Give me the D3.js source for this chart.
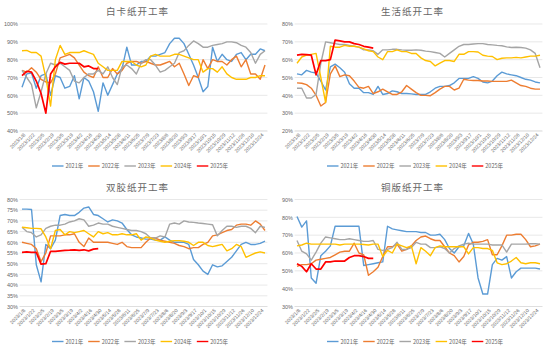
<!DOCTYPE html>
<html>
<head>
<meta charset="utf-8">
<script src="https://cdn.jsdelivr.net/npm/d3@7"></script>
<style>
  body { margin: 0; background: #fff; }
  svg { display: block; font-family: "Noto Sans CJK SC", "Noto Sans", sans-serif; }
</style>
</head>
<body>
<div id="chart"></div>
<script>
// weekly categories
const dates = ["2023/1/8","2023/1/15","2023/1/22","2023/1/29","2023/2/5","2023/2/12","2023/2/19","2023/2/26",
  "2023/3/5","2023/3/12","2023/3/19","2023/3/26","2023/4/2","2023/4/9","2023/4/16","2023/4/23","2023/4/30",
  "2023/5/7","2023/5/14","2023/5/21","2023/5/28","2023/6/4","2023/6/11","2023/6/18","2023/6/25","2023/7/2",
  "2023/7/9","2023/7/16","2023/7/23","2023/7/30","2023/8/6","2023/8/13","2023/8/20","2023/8/27","2023/9/3",
  "2023/9/10","2023/9/17","2023/9/24","2023/10/1","2023/10/8","2023/10/15","2023/10/22","2023/10/29","2023/11/5",
  "2023/11/12","2023/11/19","2023/11/26","2023/12/3","2023/12/10","2023/12/17","2023/12/24","2023/12/31"];

const years = ["2021年", "2022年", "2023年", "2024年", "2025年"];
const colors = ["#5b9bd5", "#ed7d31", "#a5a5a5", "#ffc000", "#ff0000"];

// 白卡纸
const bk2021 = [64.5,72,72.5,64,71,72,60,71,70,64,65,71,58,70,68,62,51,67,60,66,72,75,87,77,77,79,79,82,82,83,84,89,92,92,89,83,77,70,62,65,87,79,83,80,79,83,84,80,83,83,86,85];
const bk2022 = [74,73,75.5,73,69,67.5,67,72,81,82,83,81,77,73,71,70,76,70,70,75,72,74,78,79,79,78,79,78,77,77,78,79,76,78,72,65.5,71,70,80,75,80,79,79,77,80,82,76,80,72,72,69,77];
const bk2023 = [74,70,66,53,62,72,78,77,78,76,74,68,67,70,72,72,74,72,76,70,66,76,77,75,72,78,80,80,77,73,74,76,78,84,85,88,90.5,89,87,87,88,88.5,89,90,90,89.5,88,87,84,78,83,85];
const bk2024 = [85,85.2,84,84,82,70,54,80,88,83,84,84,84,85,84,83,78,76,74,74,74,79,79,79,77,76,77,82,83,82,82,82,83,83,82,81,80,80,73,75,75,73,76,72,70,69,69,69,70,70,71,71];
const bk2025 = [71,73.5,73,68,61,50,72,76,78.5,77.5,78,78,78,76,76.5,75,75];

// 生活纸
const sh2021 = [52,51.5,54,53,52.5,48,43,56,57.5,55.5,53,46.5,44,44,41.5,41.5,40.5,45,40.5,41,42.5,42,41,41,40.8,40.5,40.5,40.5,42,44,45,45,45.5,47,49.5,49.5,49.5,50.5,49.5,47.5,47,48,51,53,52,51.5,51,50,49,48.5,47.5,47];
const sh2022 = [47,46.8,46,44,40,34,36,52,56.5,50.5,51.5,51,48,44.5,44,45,41,42,43.5,42,40.5,40.5,42,45.5,43.5,41.5,40,40,39.8,41.5,43.5,45,45,43,44,49,48.5,48.3,48.3,48,48,47.8,47.8,47.8,47.8,48.5,47,45.5,45,44,43.5,43.5];
const sh2023 = [44,44,38.5,38.5,40.5,58,70,69.5,69,68.5,68.5,68,67.5,67,65.5,65.5,65,63,65.5,65.5,65.8,65.8,65.5,65.3,65.3,65.5,65.3,64.8,64.5,64,63.5,61.5,63.5,65.5,67.5,68.5,68.5,68.8,69,69,68.5,68.3,68,67.8,67.2,66.8,67,66.8,66.5,65.5,63.5,55.5];
const sh2024 = [58,61.5,62.5,63,63.5,50,36,67.5,67,67,68,67.5,67.5,67,66,65,64.5,61.5,60,64.5,64.5,65.5,64.5,64.5,63.5,63.5,61,59.5,59,56.5,58,59.5,59.5,59,63,63,64.5,64.5,64.3,62.5,62,61.8,60,60.8,61,61,61.3,61,61.5,62,62,62.5];
const sh2025 = [62.5,63,62.8,62.5,51.5,59.5,59.5,60,71,70.5,70,70,69,68.5,67.5,67,66.5];

// 双胶纸
const sj2021 = [75.5,75.5,75.3,49.5,41.5,59,57,61,72.5,73,72.5,72.5,74,76,76.5,73,72.5,71,69.5,70.5,70,69,66,63.5,62.5,62,61.5,61.5,61,61,62.5,61,60,60,60,59,52,49.5,46.5,45,49.5,48.5,49,51,53,56,59,60,59,59,59.5,60.5];
const sj2022 = [60,59.5,59,57,51,55,63,63,63,63.5,63.5,64,60,58,62,60,60,60,60,59.5,59,60,58,57.5,57.5,57.5,60,62,62,61,60.5,60,59.5,58.5,58,57,57.5,57.5,59,60,63,63.5,64.5,65.5,66,68,68.5,68.5,68,70,68.5,65.5];
const sj2023 = [67,65,64.5,62.5,63.5,66.5,67.5,68,68,68.5,69.5,70,71,70.5,67.5,68,69,68.5,68.5,67.5,67,66.5,66,65.5,65.5,65,64,62,62,63,62.5,68.5,69,68.5,70,69.5,69.3,69,68.8,68.5,68.2,63,65.5,67.5,67.5,67,67.5,67.5,66.5,64.5,67.5,67];
const sj2024 = [67,66.8,66.5,66.5,66.3,62.5,57,65.5,66,63.5,65,64.5,65,65.5,64,62.5,65,64,64.5,63.5,63.5,64,63.5,63.5,64,61,62.5,62,61,60.5,60,60.5,60.8,60.8,60.5,60,58.5,60,60,58.5,58,58.5,59,56,57,59,58,53,54,55,55.5,55];
const sj2025 = [55.3,55.5,55.3,55.3,49.8,50,55.8,55.8,56,56.2,56.3,56.5,56.2,56.5,56,56.8,57];

// 铜版纸
const tb2021 = [80.5,74.5,78,46,43,58.5,61,64,75,75,75,75,75,75,53,53.5,54,54.5,55,75,73.5,73,72.5,72,72,72,71.5,71.5,70,70,70.5,67.5,62.5,60,63.5,64,71,65,46,37,37,53.5,57,56,58,46,49.5,51.5,51.5,51.5,51.5,51];
const tb2022 = [52.5,53.5,53.5,54,56,56.5,57,57.5,59,60.5,61,61,65.5,60,59,47.5,49.5,52,58,63.5,63.5,65,61,62,64,67,69,69.5,68,67,67,63.5,60,58.5,55,58,64.5,66,66,66.5,67.5,59,59,64,70,70,70.5,70.5,67.5,63.5,64,65];
const tb2023 = [67,61,59.5,56,60.5,65.5,69,68.5,68,67.5,67.5,68,67.5,67,66.5,66.5,67,62,61.5,62,63,66,62,62,63,66,65,65,63,63,63.5,62.5,60,62.5,64,65,65.5,65,65,65,65,64.5,64.5,64.5,60.5,65,65,65,65,65.2,65.2,65];
const tb2024 = [64,64.5,65.5,65,65,65,65,65,65,64.5,65,65,65,65,64.8,64.5,65,65,58,61.5,60,65,64,63,64,54,63,61,58.5,63,64,63.5,63.5,63.5,63.5,63.5,59.5,63,63,62.5,62.5,61.5,54.5,53.5,54,55.5,57.5,54.5,54,54.5,54.5,54];
const tb2025 = [54,52.5,49.5,54,51,51,55,55,55.5,55.5,55.5,57.5,58.5,58.5,58,57,57];

const panels = [
  { title: "白卡纸开工率", ticks: [40,50,60,70,80,90,100], series: [bk2021,bk2022,bk2023,bk2024,bk2025] },
  { title: "生活纸开工率", ticks: [20,30,40,50,60,70,80], series: [sh2021,sh2022,sh2023,sh2024,sh2025] },
  { title: "双胶纸开工率", ticks: [30,35,40,45,50,55,60,65,70,75,80], series: [sj2021,sj2022,sj2023,sj2024,sj2025] },
  { title: "铜版纸开工率", ticks: [30,40,50,60,70,80,90], series: [tb2021,tb2022,tb2023,tb2024,tb2025] }
];

const pw = 275;

const svg = d3.select("#chart").append("svg")
    .attr("width", 550)
    .attr("height", 351);

panels.forEach((p, k) => {
    const g = svg.append("g")
        .attr("transform", `translate(${(k % 2) * pw},${Math.floor(k / 2) * 175.5})`);

    const x = d3.scalePoint().domain(dates).range([22, 265]);
    const y = d3.scaleLinear().domain(d3.extent(p.ticks)).range([131, 24]);

    // title
    g.append("text")
        .attr("x", 137.5)
        .attr("y", 15)
        .attr("text-anchor", "middle")
        .style("font-size", "9.5px")
        .style("letter-spacing", "1px")
        .style("fill", "#666")
        .text(p.title);

    // gridlines
    g.append("g").selectAll("line")
        .data(p.ticks)
        .enter().append("line")
        .attr("x1", 19.6).attr("x2", 267.4)
        .attr("y1", d => y(d)).attr("y2", d => y(d))
        .attr("stroke", "#d9d9d9")
        .attr("stroke-width", 0.6);

    // y axis
    const ya = g.append("g")
        .attr("transform", "translate(18,0)")
        .call(d3.axisLeft(y).tickValues(p.ticks).tickSize(0).tickPadding(0).tickFormat(d => d + "%"));
    ya.select(".domain").remove();
    ya.selectAll("text")
        .style("font-size", "5.5px")
        .style("font-family", "'Liberation Sans', sans-serif")
        .style("fill", "#666");

    // x axis
    const xa = g.append("g")
        .attr("transform", `translate(0,${y(p.ticks[0])})`)
        .call(d3.axisBottom(x).tickValues(dates.filter((d, i) => i % 2 === 0)).tickSize(0));
    xa.select(".domain").attr("stroke", "#d9d9d9").attr("stroke-width", 0.6)
        .attr("d", "M19.6,0H267.4");
    xa.selectAll("text")
        .attr("text-anchor", "end")
        .attr("dy", "0.35em")
        .attr("transform", "translate(2,3) rotate(-45)")
        .attr("y", 0)
        .attr("x", 0)
        .style("font-size", "5px")
        .style("font-family", "'Liberation Sans', sans-serif")
        .style("fill", "#666");

    // lines
    const line = d3.line()
        .x((d, i) => x(dates[i]))
        .y(d => y(d));

    p.series.forEach((s, j) => {
        g.append("path")
            .datum(s)
            .attr("fill", "none")
            .attr("stroke", colors[j])
            .attr("stroke-width", j === 4 ? 1.7 : 1.4)
            .attr("stroke-linejoin", "round")
            .attr("d", line);
    });

    // legend
    const lg = g.append("g").attr("transform", "translate(52,166)");
    years.forEach((yr, j) => {
        const item = lg.append("g").attr("transform", `translate(${j * 36.2},0)`);
        item.append("line")
            .attr("x1", 0).attr("x2", 11.5)
            .attr("stroke", colors[j])
            .attr("stroke-width", 1.4);
        item.append("text")
            .attr("x", 13.5)
            .attr("y", 2)
            .style("font-size", "5.5px")
            .style("fill", "#666")
            .text(yr);
    });
});
</script>
</body>
</html>
